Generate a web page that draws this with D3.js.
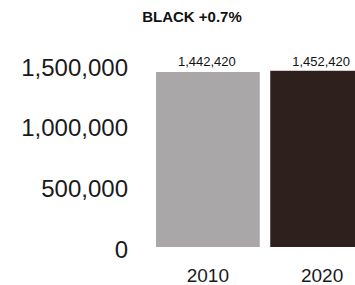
<!DOCTYPE html>
<html>
<head>
<meta charset="utf-8">
<script src="https://cdn.jsdelivr.net/npm/d3@7"></script>
<style>
  html, body { margin: 0; padding: 0; background: #fff; }
  svg { display: block; font-family: "Liberation Sans", Arial, sans-serif; }
</style>
</head>
<body>
<div id="chart"></div>
<script>
const title = "BLACK +0.7%"
const years = ["2010", "2020"]
const population = [1442420, 1452420]
const tickValues = [0, 500000, 1000000, 1500000]
const barColors = ["#a9a7a7", "#2d201d"]

const width = 355
const height = 285

const x = d3.scaleBand()
  .domain(years)
  .range([156, 374])
  .paddingInner(0.092)

const y = d3.scaleLinear()
  .domain([0, 1500000])
  .range([247, 65])

const svg = d3.select("#chart")
  .append("svg")
  .attr("width", width)
  .attr("height", height)

// Title
svg.append("text")
  .attr("x", 192)
  .attr("y", 22)
  .attr("text-anchor", "middle")
  .style("font-size", "15px")
  .style("font-weight", "700")
  .style("fill", "#111")
  .text(title)

// Y axis labels (no line, no ticks)
const yAxis = d3.axisLeft(y)
  .tickValues(tickValues)
  .tickSize(0)
  .tickPadding(0)
  .tickFormat(d3.format(","))

const yg = svg.append("g")
  .attr("transform", "translate(128,0)")
  .call(yAxis)
yg.select(".domain").remove()
yg.selectAll("text")
  .attr("dy", "0.42em")
  .style("font-size", "24px")
  .style("font-family", "'Liberation Sans', Arial, sans-serif")
  .style("fill", "#1a1a1a")

// Bars
svg.selectAll("rect.bar")
  .data(years)
  .join("rect")
  .attr("class", "bar")
  .attr("x", d => x(d))
  .attr("y", (d, i) => y(population[i]))
  .attr("width", x.bandwidth())
  .attr("height", (d, i) => y(0) - y(population[i]))
  .attr("fill", (d, i) => barColors[i])

// Value labels
svg.selectAll("text.value")
  .data(years)
  .join("text")
  .attr("class", "value")
  .attr("x", d => x(d) + x.bandwidth() / 2 - 1)
  .attr("y", 66)
  .attr("text-anchor", "middle")
  .style("font-size", "13px")
  .style("fill", "#111")
  .text((d, i) => d3.format(",")(population[i]))

// Year labels
const xAxis = d3.axisBottom(x).tickSize(0).tickPadding(0)
const xg = svg.append("g")
  .attr("transform", "translate(0,282)")
  .call(xAxis)
xg.select(".domain").remove()
xg.selectAll("text")
  .attr("dy", 0)
  .style("font-size", "19px")
  .style("font-family", "'Liberation Sans', Arial, sans-serif")
  .style("fill", "#1a1a1a")
</script>
</body>
</html>
